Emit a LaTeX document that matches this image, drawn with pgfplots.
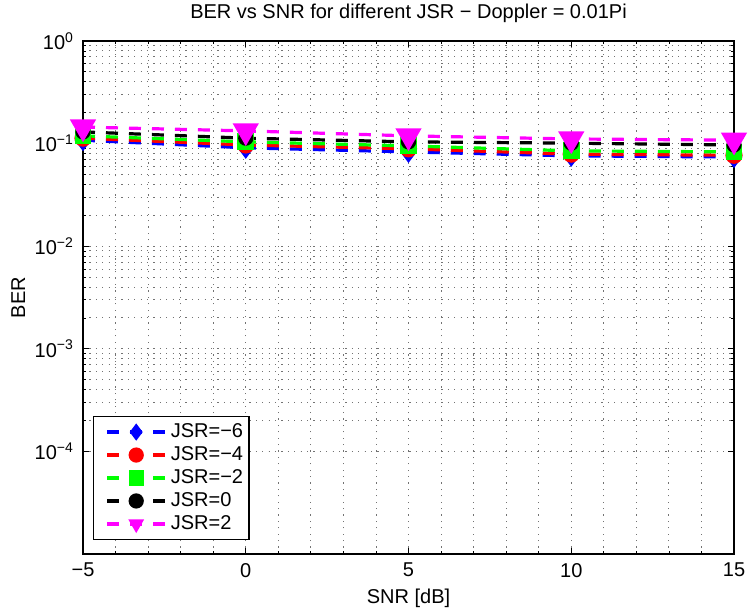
\documentclass[border=0pt]{standalone}
\usepackage{fontspec}
\setmainfont{Liberation Sans}
\usepackage{pgfplots}
\pgfplotsset{compat=1.18}
\definecolor{mblue}{rgb}{0,0,1}
\definecolor{mred}{rgb}{1,0,0}
\definecolor{mgreen}{rgb}{0,1,0}
\definecolor{mmag}{rgb}{1,0,1}
\begin{document}
\begin{tikzpicture}[font=\fontsize{10}{12}\selectfont]
\useasboundingbox (-41.5pt,-29pt) rectangle (332.5pt,277pt);
\begin{axis}[
  at={(0,0)}, anchor=south west, scale only axis,
  width=325.5pt, height=256.5pt,
  xmin=-5, xmax=15, ymin=1e-5, ymax=1,
  ymode=log,
  xtick={-5,0,5,10,15}, xticklabels={−5,0,5,10,15},
  minor x tick num=4,
  ytick={1e-4,1e-3,1e-2,1e-1,1},
  yticklabels={10\textsuperscript{−4},10\textsuperscript{−3},10\textsuperscript{−2},10\textsuperscript{−1},10\textsuperscript{0}},
  yticklabel style={xshift=-1pt},
  xticklabel style={yshift=-1pt},
  grid=both,
  major grid style={dash pattern=on 0.6pt off 2.6pt, black!55, line width=0.45pt},
  minor grid style={dash pattern=on 0.6pt off 2.6pt, black!55, line width=0.45pt},
  axis line style={line width=0.6pt},
  major tick length=3pt, minor tick length=1.6pt,
  tick style={black, line width=0.4pt},
  title={BER vs SNR for different JSR − Doppler = 0.01Pi},
  xlabel={SNR [dB]}, ylabel={BER},
  every axis title/.style={at={(axis description cs:0.5,1.043)}, anchor=base},
  every axis x label/.style={at={(axis description cs:0.5,-0.0955)}, anchor=base},
  every axis y label/.style={at={(axis description cs:-0.089,0.5)}, rotate=90, anchor=base},
  legend style={at={(axis description cs:0.0154,0.0273)}, anchor=south west,
    draw=black, line width=0.6pt, fill=white, row sep=-1pt, inner xsep=1pt, inner ysep=1.5pt},
  legend cell align=left,
  legend image code/.code={\path (-5pt,0pt);\draw[mark repeat=2,mark phase=2] plot coordinates {(0pt,0pt) (14.5pt,0pt) (29pt,0pt)};},
  every legend image post/.append style={mark size=3pt},
  every axis plot/.append style={line width=1.6pt, dash pattern=on 6pt off 5.5pt},
]
\addplot[color=mblue, mark=diamond*, mark size=4.2pt, mark options={solid, fill=mblue}] coordinates {
  (-5,0.108) (0,0.091) (5,0.083) (10,0.076) (15,0.074)
};
\addlegendentry{JSR=−6}
\addplot[color=mred, mark=*, mark size=3.5pt, mark options={solid, fill=mred}] coordinates {
  (-5,0.113) (0,0.097) (5,0.089) (10,0.079) (15,0.077)
};
\addlegendentry{JSR=−4}
\addplot[color=mgreen, mark=square*, mark size=3.4pt, mark options={solid, fill=mgreen}] coordinates {
  (-5,0.119) (0,0.104) (5,0.095) (10,0.085) (15,0.083)
};
\addlegendentry{JSR=−2}
\addplot[color=black, mark=*, mark size=3pt, mark options={solid, fill=black}] coordinates {
  (-5,0.130) (0,0.113) (5,0.104) (10,0.101) (15,0.097)
};
\addlegendentry{JSR=0}
\addplot[color=mmag, mark=triangle*, mark size=6pt, mark options={solid, fill=mmag, rotate=180}] coordinates {
  (-5,0.145) (0,0.133) (5,0.119) (10,0.111) (15,0.108)
};
\addlegendentry{JSR=2}
\end{axis}
\end{tikzpicture}
\end{document}
